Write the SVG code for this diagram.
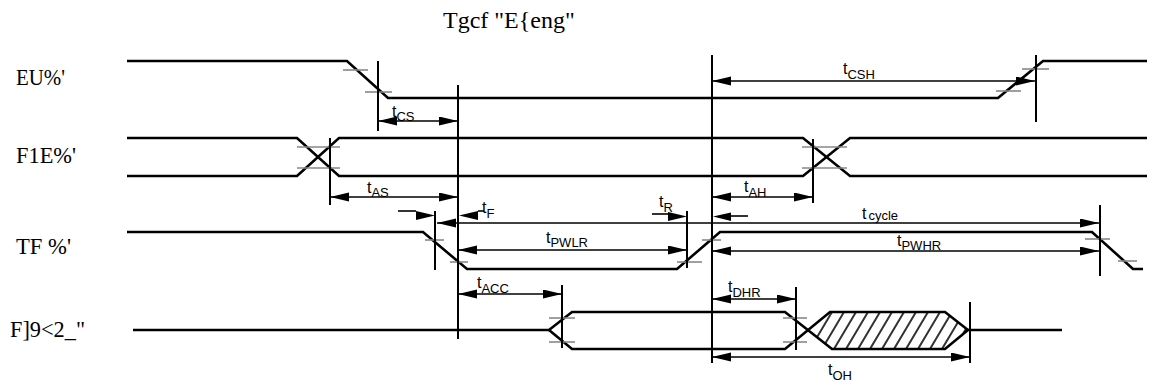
<svg xmlns="http://www.w3.org/2000/svg" width="1149" height="383" viewBox="0 0 1149 383">
<style>
.sig{fill:none;stroke:#000;stroke-width:2.6;stroke-linejoin:miter}
.vl{stroke:#000;stroke-width:2}
.tk{stroke:#888;stroke-width:1.6}
.dim{stroke:#000;stroke-width:1.6;fill:none}
.ah{fill:#000}
.lbl{font-family:"Liberation Serif","Times New Roman",serif;font-size:24px;fill:#000}
.t{font-family:"Liberation Sans",Arial,sans-serif;font-size:16px;fill:#000}
.s{font-size:13px}
.hatch{stroke:#333;stroke-width:2}
</style>
<defs>
<marker id="ah" markerUnits="userSpaceOnUse" markerWidth="20" markerHeight="10" refX="19" refY="4.5" orient="auto-start-reverse">
<path d="M0,0 L19,4.5 L0,9 z" fill="#000"/>
</marker>
<clipPath id="hc"><polygon points="808,330 830,312 945,312 968,330 945,349 832,349"/></clipPath>
</defs>
<rect width="1149" height="383" fill="#fff"/>

<g id="title"><text class="lbl" x="443" y="28">Tgcf "E{eng"</text></g>

<g id="cs">
<text class="lbl" x="16" y="85" textLength="49" lengthAdjust="spacingAndGlyphs">EU%'</text>
<path class="sig" d="M127,61 L347,61 L388,98 L998,98 L1043,61 L1147,61"/>
<line class="tk" x1="343" y1="70" x2="368" y2="70"/>
<line class="tk" x1="365" y1="92" x2="392" y2="92"/>
<line class="tk" x1="996" y1="91" x2="1021" y2="91"/>
<line class="tk" x1="1022" y1="69" x2="1049" y2="69"/>
</g>

<g id="dc">
<text class="lbl" x="16" y="163" textLength="60" lengthAdjust="spacingAndGlyphs">F1E%'</text>
<path class="sig" d="M127,138 L297,138 L339,176 L803,176 L850,138 L1147,138"/>
<path class="sig" d="M127,176 L297,176 L339,138 L803,138 L850,176 L1147,176"/>
<line class="tk" x1="297" y1="147" x2="340" y2="147"/>
<line class="tk" x1="297" y1="168" x2="340" y2="168"/>
<line class="tk" x1="802" y1="147" x2="847" y2="147"/>
<line class="tk" x1="802" y1="168" x2="847" y2="168"/>
</g>

<g id="rd">
<text class="lbl" x="16" y="254" textLength="55" lengthAdjust="spacingAndGlyphs">TF %'</text>
<path class="sig" d="M127,232 L423,232 L467,269 L677,269 L720,232 L1092,232 L1133,269 L1143,269"/>
<line class="tk" x1="425" y1="240" x2="444" y2="240"/>
<line class="tk" x1="450" y1="262" x2="468" y2="262"/>
<line class="tk" x1="677" y1="262" x2="702" y2="262"/>
<line class="tk" x1="702" y1="240" x2="721" y2="240"/>
<line class="tk" x1="1085" y1="239" x2="1110" y2="239"/>
<line class="tk" x1="1118" y1="261" x2="1137" y2="261"/>
</g>

<g id="data">
<text class="lbl" x="10" y="337" textLength="75" lengthAdjust="spacingAndGlyphs">F]9&lt;2_"</text>
<g clip-path="url(#hc)">
<path class="hatch" d="M810,349 L832,312 M822,349 L844,312 M834,349 L856,312 M846,349 L868,312 M858,349 L880,312 M870,349 L892,312 M882,349 L904,312 M894,349 L916,312 M906,349 L928,312 M918,349 L940,312 M930,349 L952,312 M942,349 L964,312 M954,349 L976,312"/>
</g>
<path class="sig" d="M133,330 L549,330 L572,312 L785,312 L832,349 L945,349 L968,330 L1062,330"/>
<path class="sig" d="M549,330 L572,349 L785,349 L830,312 L945,312 L968,330"/>
<line class="tk" x1="549" y1="318" x2="575" y2="318"/>
<line class="tk" x1="549" y1="342" x2="575" y2="342"/>
<line class="tk" x1="783" y1="318" x2="807" y2="318"/>
<line class="tk" x1="783" y1="342" x2="807" y2="342"/>
</g>

<g id="connectors">
<line class="vl" x1="378" y1="61" x2="378" y2="131"/>
<line class="vl" x1="458" y1="85" x2="458" y2="339"/>
<line class="vl" x1="330" y1="138" x2="330" y2="205"/>
<line class="vl" x1="435" y1="211" x2="435" y2="270"/>
<line class="vl" x1="687" y1="211" x2="687" y2="268"/>
<line class="vl" x1="712" y1="55" x2="712" y2="363"/>
<line class="vl" x1="813" y1="139" x2="813" y2="203"/>
<line class="vl" x1="1036" y1="55" x2="1036" y2="122"/>
<line class="vl" x1="1100" y1="205" x2="1100" y2="276"/>
<line class="vl" x1="562" y1="285" x2="562" y2="348"/>
<line class="vl" x1="796" y1="287" x2="796" y2="350"/>
<line class="vl" x1="970" y1="302" x2="970" y2="363"/>

<line class="dim" x1="378" y1="121" x2="458" y2="121" marker-start="url(#ah)" marker-end="url(#ah)"/>
<line class="dim" x1="330" y1="197" x2="458" y2="197" marker-start="url(#ah)" marker-end="url(#ah)"/>
<line class="dim" x1="712" y1="197" x2="813" y2="197" marker-start="url(#ah)" marker-end="url(#ah)"/>
<line class="dim" x1="712" y1="81" x2="1035" y2="81" marker-start="url(#ah)" marker-end="url(#ah)"/>
<line class="dim" x1="437" y1="223" x2="1099" y2="223" marker-start="url(#ah)" marker-end="url(#ah)"/>
<line class="dim" x1="458" y1="250" x2="687" y2="250" marker-start="url(#ah)" marker-end="url(#ah)"/>
<line class="dim" x1="712" y1="251" x2="1099" y2="251" marker-start="url(#ah)" marker-end="url(#ah)"/>
<line class="dim" x1="458" y1="294" x2="562" y2="294" marker-start="url(#ah)" marker-end="url(#ah)"/>
<line class="dim" x1="712" y1="299" x2="796" y2="299" marker-start="url(#ah)" marker-end="url(#ah)"/>
<line class="dim" x1="712" y1="357" x2="970" y2="357" marker-start="url(#ah)" marker-end="url(#ah)"/>

<line class="dim" x1="398" y1="211" x2="416" y2="211"/>
<polygon class="ah" points="416,211 435,215.5 416,220"/>
<polygon class="ah" points="478,211 459,215.5 478,220"/>
<line class="dim" x1="478" y1="211" x2="484" y2="211"/>
<line class="dim" x1="652" y1="214" x2="668" y2="214"/>
<polygon class="ah" points="668,212 687,216.5 668,221"/>
<polygon class="ah" points="731,212.5 713,216.5 731,221"/>
<line class="dim" x1="731" y1="216" x2="748" y2="216"/>
</g>

<g id="labels">
<text class="t" x="392" y="117">t<tspan class="s" dy="4">CS</tspan></text>
<text class="t" x="367" y="193">t<tspan class="s" dy="4">AS</tspan></text>
<text class="t" x="482" y="213">t<tspan class="s" dy="5">F</tspan></text>
<text class="t" x="659" y="207">t<tspan class="s" dy="5">R</tspan></text>
<text class="t" x="546" y="243">t<tspan class="s" dy="4">PWLR</tspan></text>
<text class="t" x="477" y="288">t<tspan class="s" dy="5">ACC</tspan></text>
<text class="t" x="744" y="192">t<tspan class="s" dy="5">AH</tspan></text>
<text class="t" x="843" y="74">t<tspan class="s" dy="5">CSH</tspan></text>
<text class="t" x="862" y="219">t<tspan class="s" dx="2" dy="1">cycle</tspan></text>
<text class="t" x="897" y="246">t<tspan class="s" dy="4">PWHR</tspan></text>
<text class="t" x="728" y="292">t<tspan class="s" dy="5">DHR</tspan></text>
<text class="t" x="828" y="375">t<tspan class="s" dy="5">OH</tspan></text>
</g>
</svg>
